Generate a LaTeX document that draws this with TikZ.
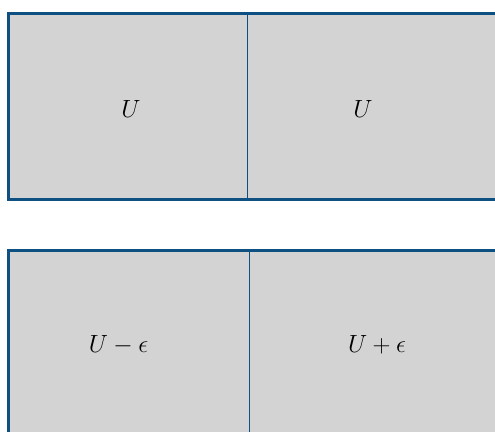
\documentclass[tikz,border=0pt]{standalone}
\definecolor{edge}{RGB}{14,80,130}
\definecolor{cellfill}{RGB}{211,211,211}
\begin{document}
\begin{tikzpicture}[x=1pt,y=-1pt,
  outer/.style={draw=edge,line width=3pt,fill=cellfill},
  divider/.style={draw=edge,line width=1.6pt},
  lbl/.style={anchor=base,inner sep=0pt,font=\fontsize{27}{32}\selectfont}]
\useasboundingbox (0,0) rectangle (495,431);
\begin{scope}
\clip (0,0) rectangle (495,431);
\path[outer] (8.5,13.5) rectangle (540,199.5);
\path[divider] (247.5,13.5) -- (247.5,199.5);
\path[outer] (8.5,250.5) rectangle (540,480);
\path[divider] (249.5,250.5) -- (249.5,480);
\end{scope}
\node[lbl] (a) at (131,117) {$U$};
\node[lbl] (b) at (363,117) {$U$};
\node[lbl] (c) at (118.5,352) {$U-\epsilon$};
\node[lbl] (d) at (377,352) {$U+\epsilon$};
\end{tikzpicture}
\end{document}
